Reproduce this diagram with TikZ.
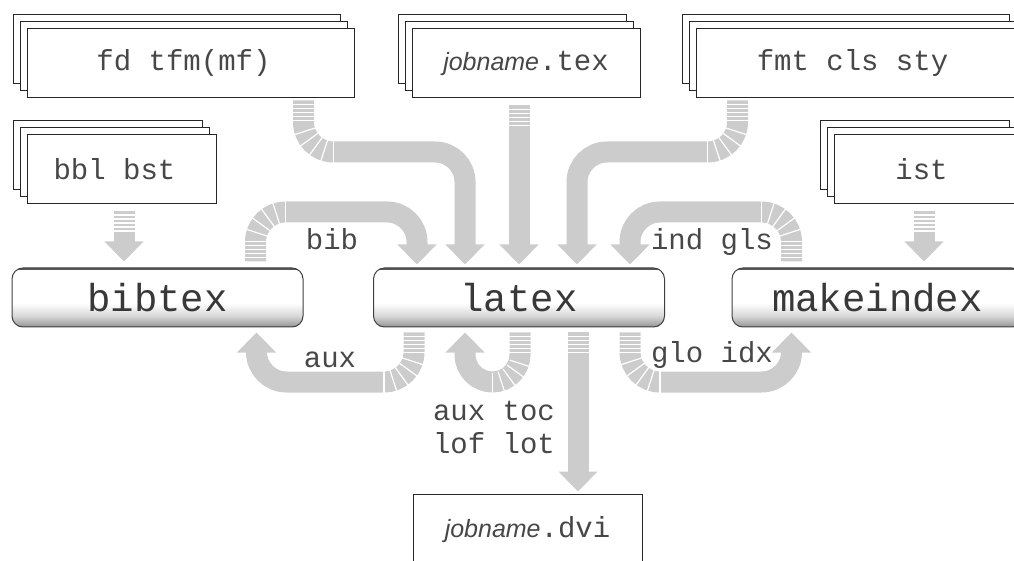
\documentclass[tikz,border=0pt]{standalone}
\usepackage{fontspec}
\setmonofont{Liberation Mono}
\newfontfamily\jobfont{Liberation Sans}
\usetikzlibrary{arrows.meta,calc,shadows}
\pgfdeclareverticalshading{bevel}{100bp}{color(0bp)=(black!42); color(25bp)=(black!42); color(34bp)=(black!16); color(45bp)=(white); color(75bp)=(white); color(100bp)=(white)}
\newcommand\vstripes[3]{\foreach \k in {1,...,#3} \draw[stripe] ($(#1)+(-12,#2*4*\k)$) -- ++(24,0);}
\newcommand\bendstripes[3]{\foreach \k in {1,...,5} {\pgfmathsetmacro\ang{#2+(#3-#2)*\k/5}\draw[stripe] (#1) ++(\ang:18) -- ++(\ang:24);}}
\tikzset{
  filestack/.style={draw=black!85, line width=1pt, fill=white, minimum width=#1, minimum height=69pt, inner sep=0pt,
    font=\ttfamily\fontsize{29}{31}\selectfont, text=black!72,
    general shadow={shadow xshift=-14pt, shadow yshift=14pt, fill=white, draw=black!85},
    general shadow={shadow xshift=-7pt, shadow yshift=7pt, fill=white, draw=black!85}},
  offcentre/.style={execute at begin node={\kern-14pt}},
  program/.style={draw=black!75, line width=1pt, rounded corners=11pt, minimum width=291pt, minimum height=59pt,
    shading=bevel, path picture={\draw[line width=4pt, black!65] (path picture bounding box.north west) -- (path picture bounding box.north east);},
    font=\ttfamily\fontsize{39}{41}\selectfont, text=black!78},
  pipe/.style={line width=21pt, draw=black!20, rounded corners=30pt, -{Triangle[width=38pt,length=20pt]}},
  stripe/.style={draw=white, line width=1.2pt},
  flowlabel/.style={font=\ttfamily\fontsize{29}{31}\selectfont, text=black!72, anchor=base},
}
\begin{document}
\begin{tikzpicture}[x=1pt, y=1pt]
	%%%%% START %%%%%
	\useasboundingbox (0,0) rectangle (1014,560);
	
	\node[filestack=327pt, offcentre] (fonts) at (190.5,496.5) {fd tfm(mf)};
	\node[filestack=228pt] (source) at (526,496.5) {{\jobfont\itshape\fontsize{25}{27}\selectfont jobname}.tex};
	\node[filestack=327pt, offcentre] (formats) at (859.5,496.5) {fmt cls sty};
	\node[filestack=189pt, offcentre] (bibfiles) at (121.5,391) {bbl bst};
	\node[filestack=189pt, offcentre] (indexstyle) at (928.5,391) {ist};
	
	\node[program] (bibtex) at (157.5,262.5) {bibtex};
	\node[program] (latex) at (519,262.5) {latex};
	\node[program] (makeindex) at (877.5,262.5) {makeindex};
	
	\node[draw=black!85, line width=1pt, fill=white, minimum width=229pt, minimum height=72pt, inner sep=0pt,
		font=\ttfamily\fontsize{29}{31}\selectfont, text=black!72] (dvi) at (527.5,30)
		{{\jobfont\itshape\fontsize{25}{27}\selectfont jobname}.dvi};
	
	\coordinate (top lane) at (0,408);
	\coordinate (bib lane) at (0,348);
	\coordinate (low lane) at (0,178);
	
	% into latex from above
	\coordinate (a1) at ($(fonts.south east)+(-51,-2)$);
	\coordinate (b1) at ($(latex.north)+(-54,3)$);
	\draw[pipe] (a1) -- (a1 |- top lane) -- (b1 |- top lane) -- (b1);
	\coordinate (c1) at ($(a1 |- top lane)+(30,30)$);
	\vstripes{a1}{-1}{5}
	\bendstripes{c1}{180}{270}
	
	\coordinate (a2) at ($(source.south -| latex.north)+(0,-7)$);
	\coordinate (b2) at ($(latex.north)+(0,3)$);
	\draw[pipe] (a2) -- (b2);
	\vstripes{a2}{-1}{5}
	
	\coordinate (a3) at ($(formats.south west)+(42,-2)$);
	\coordinate (b3) at ($(latex.north)+(58,3)$);
	\draw[pipe] (a3) -- (a3 |- top lane) -- (b3 |- top lane) -- (b3);
	\coordinate (c3) at ($(a3 |- top lane)+(-30,30)$);
	\vstripes{a3}{-1}{5}
	\bendstripes{c3}{0}{-90}
	
	\coordinate (a4) at ($(bibtex.north east)+(-48,6)$);
	\coordinate (b4) at ($(latex.north west)+(44,3)$);
	\draw[pipe] (a4) -- (a4 |- bib lane) -- (b4 |- bib lane) -- (b4);
	\coordinate (c4) at ($(a4 |- bib lane)+(30,-30)$);
	\vstripes{a4}{1}{5}
	\bendstripes{c4}{180}{90}
	
	\coordinate (a5) at ($(makeindex.north west)+(60,6)$);
	\coordinate (b5) at ($(latex.north east)+(-35,3)$);
	\draw[pipe] (a5) -- (a5 |- bib lane) -- (b5 |- bib lane) -- (b5);
	\coordinate (c5) at ($(a5 |- bib lane)+(-30,-30)$);
	\vstripes{a5}{1}{5}
	\bendstripes{c5}{0}{90}
	
	% style files
	\coordinate (a6) at ($(indexstyle.south)+(-4.5,-7)$);
	\coordinate (b6) at ($(a6 |- makeindex.north)+(0,6)$);
	\draw[pipe] (a6) -- (b6);
	\vstripes{a6}{-1}{5}
	
	\coordinate (a7) at ($(bibfiles.south)+(2.5,-7)$);
	\coordinate (b7) at ($(a7 |- bibtex.north)+(0,6)$);
	\draw[pipe] (a7) -- (b7);
	\vstripes{a7}{-1}{5}
	
	% out of latex
	\coordinate (a8) at ($(latex.south west)+(41,-5)$);
	\coordinate (b8) at ($(bibtex.south east)+(-47,-5)$);
	\draw[pipe] (a8) -- (a8 |- low lane) -- (b8 |- low lane) -- (b8);
	\coordinate (c8) at ($(a8 |- low lane)+(-30,30)$);
	\vstripes{a8}{-1}{5}
	\bendstripes{c8}{0}{-90}
	
	\coordinate (a9) at ($(latex.south)+(1,-5)$);
	\coordinate (b9) at ($(latex.south)+(-54,-5)$);
	\draw[pipe, rounded corners=27.5pt] (a9) -- (a9 |- low lane) -- (b9 |- low lane) -- (b9);
	\coordinate (c9) at ($(a9 |- low lane)+(-27.5,27.5)$);
	\vstripes{a9}{-1}{5}
	\bendstripes{c9}{0}{-90}
	
	\coordinate (a10) at ($(latex.south)+(59,-5)$);
	\coordinate (b10) at ($(a10 |- dvi.north)+(0,2)$);
	\draw[pipe] (a10) -- (b10);
	\vstripes{a10}{-1}{5}
	
	\coordinate (a11) at ($(latex.south east)+(-35,-5)$);
	\coordinate (b11) at ($(makeindex.south west)+(60,-5)$);
	\draw[pipe] (a11) -- (a11 |- low lane) -- (b11 |- low lane) -- (b11);
	\coordinate (c11) at ($(a11 |- low lane)+(30,30)$);
	\vstripes{a11}{-1}{5}
	\bendstripes{c11}{180}{270}
	
	\node[flowlabel] (bib) at (332,310) {bib};
	\node[flowlabel] (indgls) at (712,310) {ind gls};
	\node[flowlabel] (aux) at (330,193) {aux};
	\node[flowlabel] (gloidx) at (712,198) {glo idx};
	\node[flowlabel] (auxtoc) at (494,140) {aux toc};
	\node[flowlabel] (loflot) at (494,107) {lof lot};
	
	%%%%% END %%%%%
\end{tikzpicture}
\end{document}
